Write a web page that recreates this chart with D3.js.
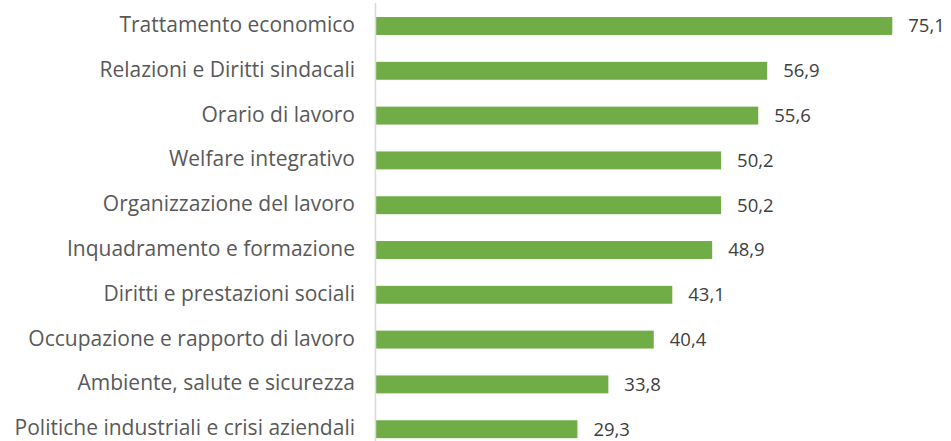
<!DOCTYPE html>
<html>
<head>
<meta charset="utf-8">
<script src="https://cdn.jsdelivr.net/npm/d3@7"></script>
<style>
  body { margin: 0; background: #fff; }
  svg { display: block; }
</style>
</head>
<body>
<div id="chart"></div>
<script>
// data
var categories = [
  "Trattamento economico",
  "Relazioni e Diritti sindacali",
  "Orario di lavoro",
  "Welfare integrativo",
  "Organizzazione del lavoro",
  "Inquadramento e formazione",
  "Diritti e prestazioni sociali",
  "Occupazione e rapporto di lavoro",
  "Ambiente, salute e sicurezza",
  "Politiche industriali e crisi aziendali"
];
var values = [75.1, 56.9, 55.6, 50.2, 50.2, 48.9, 43.1, 40.4, 33.8, 29.3];

// layout
var W = 951, H = 441;
var axisX = 376,
    color = { bar: "#70ad47", axis: "#d9d9d9", label: "#595959", value: "#404040" };

var svg = d3.select("#chart").append("svg").attr("width", W).attr("height", H);

var x = d3.scaleLinear().domain([0, 75.1]).range([axisX, 892.3]);
var y = d3.scaleBand().domain(categories).range([3.6, 451.6])
          .paddingInner(0.6).paddingOuter(0.3);

svg.selectAll("rect.bar").data(values).enter().append("rect")
   .attr("class", "bar")
   .attr("x", x(0))
   .attr("y", function(d, i) { return y(categories[i]); })
   .attr("width", function(d) { return x(d) - x(0); })
   .attr("height", y.bandwidth())
   .attr("fill", color.bar);

// vertical axis line
svg.append("line").attr("x1", axisX - 0.5).attr("x2", axisX - 0.5)
   .attr("y1", 3).attr("y2", H).attr("stroke", color.axis).attr("stroke-width", 1.5);

// category labels
svg.selectAll("text.cat").data(categories).enter().append("text")
   .attr("class", "cat")
   .attr("x", 355)
   .attr("y", function(d) { return y(d) + y.bandwidth() / 2; })
   .attr("dy", "0.29em")
   .attr("text-anchor", "end")
   .attr("font-family", "'Open Sans', sans-serif")
   .attr("font-size", 21)
   .attr("fill", color.label)
   .text(function(d) { return d; });

// value labels
svg.selectAll("text.val").data(values).enter().append("text")
   .attr("class", "val")
   .attr("x", function(d) { return x(d) + 16; })
   .attr("y", function(d, i) { return y(categories[i]) + y.bandwidth() / 2; })
   .attr("dy", "0.35em")
   .attr("font-family", "'Open Sans', sans-serif")
   .attr("font-size", 18.5)
   .attr("fill", color.value)
   .text(function(d) { return d.toFixed(1).replace(".", ","); });
</script>
</body>
</html>
